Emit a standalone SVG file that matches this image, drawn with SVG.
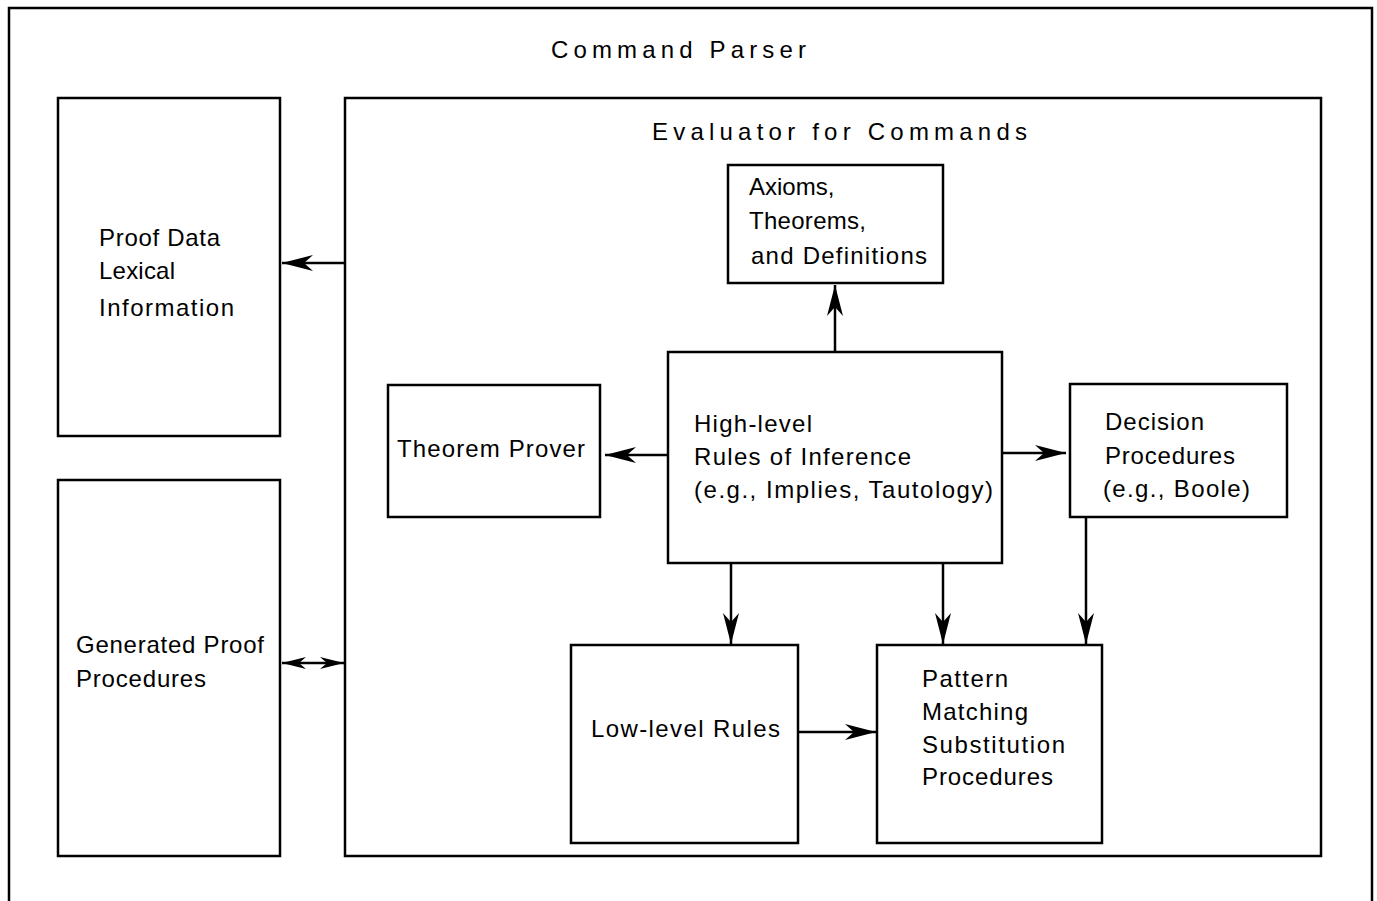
<svg xmlns="http://www.w3.org/2000/svg" width="1377" height="901" viewBox="0 0 1377 901">
<defs>
<style>
.box{fill:none;stroke:#000;stroke-width:2.5}
.ln{fill:none;stroke:#000;stroke-width:2.5}
text{font-family:"Liberation Sans","DejaVu Sans",sans-serif;font-size:24px;fill:#000}
</style>
<marker id="ah" markerUnits="userSpaceOnUse" markerWidth="34" markerHeight="18" viewBox="-32 -9 34 18" refX="0" refY="0" orient="auto-start-reverse">
<path d="M0,0 L-31,-8 L-22,0 L-31,8 Z" fill="#000"/>
</marker>
<marker id="ahs" markerUnits="userSpaceOnUse" markerWidth="26" markerHeight="14" viewBox="-25 -7 26 14" refX="0" refY="0" orient="auto-start-reverse">
<path d="M0,0 L-24,-6 L-17,0 L-24,6 Z" fill="#000"/>
</marker>
</defs>
<rect width="1377" height="901" fill="#fff"/>
<g id="command-parser">
<path class="box" d="M9,910 L9,8 L1372,8 L1372,910"/>
<text x="551" y="58" textLength="255" lengthAdjust="spacing">Command Parser</text>
</g>
<g id="proof-data">
<rect class="box" x="58" y="98" width="222" height="338"/>
<text x="99" y="246" textLength="121" lengthAdjust="spacing">Proof Data</text>
<text x="99" y="279" textLength="76" lengthAdjust="spacing">Lexical</text>
<text x="99" y="316" textLength="135" lengthAdjust="spacing">Information</text>
</g>
<g id="generated-proof">
<rect class="box" x="58" y="480" width="222" height="376"/>
<text x="76" y="653" textLength="188" lengthAdjust="spacing">Generated Proof</text>
<text x="76" y="687" textLength="130" lengthAdjust="spacing">Procedures</text>
</g>
<g id="evaluator">
<rect class="box" x="345" y="98" width="976" height="758"/>
<text x="652" y="140" textLength="375" lengthAdjust="spacing">Evaluator for Commands</text>
</g>
<g id="axioms">
<rect class="box" x="728" y="165" width="215" height="118"/>
<text x="749" y="195">Axioms,</text>
<text x="749" y="229" textLength="117" lengthAdjust="spacing">Theorems,</text>
<text x="751" y="264" textLength="176" lengthAdjust="spacing">and Definitions</text>
</g>
<g id="high-level">
<rect class="box" x="668" y="352" width="334" height="211"/>
<text x="694" y="432" textLength="118" lengthAdjust="spacing">High-level</text>
<text x="694" y="465" textLength="217" lengthAdjust="spacing">Rules of Inference</text>
<text x="694" y="498" textLength="299" lengthAdjust="spacing">(e.g., Implies, Tautology)</text>
</g>
<g id="theorem-prover">
<rect class="box" x="388" y="385" width="212" height="132"/>
<text x="397" y="457" textLength="188" lengthAdjust="spacing">Theorem Prover</text>
</g>
<g id="decision">
<rect class="box" x="1070" y="384" width="217" height="133"/>
<text x="1105" y="430" textLength="99" lengthAdjust="spacing">Decision</text>
<text x="1105" y="464" textLength="130" lengthAdjust="spacing">Procedures</text>
<text x="1103" y="497" textLength="147" lengthAdjust="spacing">(e.g., Boole)</text>
</g>
<g id="low-level">
<rect class="box" x="571" y="645" width="227" height="198"/>
<text x="591" y="737" textLength="189" lengthAdjust="spacing">Low-level Rules</text>
</g>
<g id="pattern">
<rect class="box" x="877" y="645" width="225" height="198"/>
<text x="922" y="687" textLength="86" lengthAdjust="spacing">Pattern</text>
<text x="922" y="720" textLength="106" lengthAdjust="spacing">Matching</text>
<text x="922" y="753" textLength="143" lengthAdjust="spacing">Substitution</text>
<text x="922" y="785" textLength="131" lengthAdjust="spacing">Procedures</text>
</g>
<g id="connectors">
<line class="ln" x1="345" y1="263" x2="282" y2="263" marker-end="url(#ah)"/>
<line class="ln" x1="282" y1="663" x2="344" y2="663" marker-start="url(#ahs)" marker-end="url(#ahs)"/>
<line class="ln" x1="668" y1="455" x2="605" y2="455" marker-end="url(#ah)"/>
<line class="ln" x1="1002" y1="453" x2="1066" y2="453" marker-end="url(#ah)"/>
<line class="ln" x1="835" y1="352" x2="835" y2="285" marker-end="url(#ah)"/>
<line class="ln" x1="731" y1="563" x2="731" y2="644" marker-end="url(#ah)"/>
<line class="ln" x1="943" y1="563" x2="943" y2="644" marker-end="url(#ah)"/>
<line class="ln" x1="1086" y1="517" x2="1086" y2="644" marker-end="url(#ah)"/>
<line class="ln" x1="798" y1="732" x2="876" y2="732" marker-end="url(#ah)"/>
</g>
</svg>
